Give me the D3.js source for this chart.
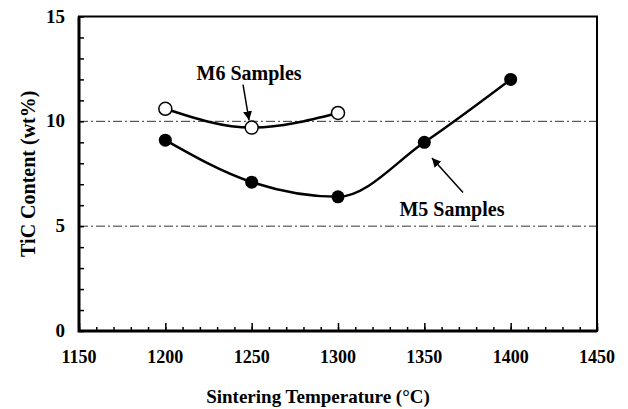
<!DOCTYPE html>
<html>
<head>
<meta charset="utf-8">
<script src="https://cdn.jsdelivr.net/npm/d3@7"></script>
<style>
  body { margin: 0; background: #fff; }
  text { font-family: "Liberation Serif", "Times New Roman", serif; font-weight: bold; fill: #000; }
</style>
</head>
<body>
<script>
const temps = [1200, 1250, 1300, 1350, 1400];
const m5 = [9.1, 7.1, 6.4, 9.0, 12.0];
const m6 = [10.6, 9.7, 10.4];
const xTicks = [1150, 1200, 1250, 1300, 1350, 1400, 1450];
const yTicks = [0, 5, 10, 15];
const gridValues = [5, 10];

const width = 628;
const height = 409;
const plot = { left: 79, right: 597, top: 16.5, bottom: 331 };

const x = d3.scaleLinear()
  .domain([1150, 1450])
  .range([plot.left, plot.right]);

const y = d3.scaleLinear()
  .domain([0, 15])
  .range([plot.bottom, plot.top]);

const svg = d3.select('body').append('svg')
  .attr('width', width)
  .attr('height', height);

// dash-dot reference lines
svg.selectAll('line.grid')
  .data(gridValues)
  .enter().append('line')
  .attr('class', 'grid')
  .attr('x1', plot.left)
  .attr('x2', plot.right)
  .attr('y1', d => y(d))
  .attr('y2', d => y(d))
  .attr('stroke', '#333')
  .attr('stroke-width', 1)
  .attr('stroke-dasharray', '9,3,2,3');

// minor / major ticks, pointing inward
svg.append('g')
  .attr('transform', `translate(0, ${plot.bottom})`)
  .call(d3.axisBottom(x).ticks(30).tickSize(-4).tickFormat(''))
  .call(g => g.select('.domain').remove())
  .call(g => g.selectAll('line').attr('stroke-width', 1.5));

svg.append('g')
  .attr('transform', `translate(0, ${plot.bottom})`)
  .call(d3.axisBottom(x).tickValues(xTicks).tickSize(-8).tickFormat(''))
  .call(g => g.select('.domain').remove())
  .call(g => g.selectAll('line').attr('stroke-width', 1.5));

svg.append('g')
  .attr('transform', `translate(${plot.left}, 0)`)
  .call(d3.axisLeft(y).ticks(15).tickSize(-5).tickFormat(''))
  .call(g => g.select('.domain').remove())
  .call(g => g.selectAll('line').attr('stroke-width', 1.5));

// frame
svg.append('rect')
  .attr('x', plot.left)
  .attr('y', plot.top)
  .attr('width', plot.right - plot.left)
  .attr('height', plot.bottom - plot.top)
  .attr('fill', 'none')
  .attr('stroke', '#000')
  .attr('stroke-width', 2);

svg.append('path')
  .attr('d', `M${plot.left},${plot.top}V${plot.bottom}H${plot.right}`)
  .attr('fill', 'none')
  .attr('stroke', '#000')
  .attr('stroke-width', 3);

// tick labels
svg.selectAll('text.xlab')
  .data(xTicks)
  .enter().append('text')
  .attr('class', 'xlab')
  .attr('x', d => x(d))
  .attr('y', 363)
  .attr('text-anchor', 'middle')
  .style('font-size', '18px')
  .text(d => d);

svg.selectAll('text.ylab')
  .data(yTicks)
  .enter().append('text')
  .attr('class', 'ylab')
  .attr('x', 65)
  .attr('y', d => y(d) + 6)
  .attr('text-anchor', 'end')
  .style('font-size', '19px')
  .text(d => d);

svg.append('text')
  .attr('x', 318)
  .attr('y', 403)
  .attr('text-anchor', 'middle')
  .style('font-size', '19px')
  .text('Sintering Temperature (°C)');

svg.append('text')
  .attr('transform', `translate(35, ${(plot.top + plot.bottom) / 2}) rotate(-90)`)
  .attr('text-anchor', 'middle')
  .style('font-size', '20px')
  .text('TiC Content (wt%)');

// curves
const line = d3.line()
  .x((d, i) => x(temps[i]))
  .y(d => y(d))
  .curve(d3.curveMonotoneX);

svg.append('path')
  .datum(m5)
  .attr('d', line)
  .attr('fill', 'none')
  .attr('stroke', '#000')
  .attr('stroke-width', 2.5);

svg.append('path')
  .datum(m6)
  .attr('d', line)
  .attr('fill', 'none')
  .attr('stroke', '#000')
  .attr('stroke-width', 2.5);

svg.selectAll('circle.m5')
  .data(m5)
  .enter().append('circle')
  .attr('class', 'm5')
  .attr('cx', (d, i) => x(temps[i]))
  .attr('cy', d => y(d))
  .attr('r', 6.5)
  .attr('fill', '#000');

svg.selectAll('circle.m6')
  .data(m6)
  .enter().append('circle')
  .attr('class', 'm6')
  .attr('cx', (d, i) => x(temps[i]))
  .attr('cy', d => y(d))
  .attr('r', 6.5)
  .attr('fill', '#fff')
  .attr('stroke', '#000')
  .attr('stroke-width', 1.5);

// annotations
svg.append('defs').append('marker')
  .attr('id', 'head')
  .attr('viewBox', '0 0 10 10')
  .attr('refX', 10)
  .attr('refY', 5)
  .attr('markerWidth', 9)
  .attr('markerHeight', 9)
  .attr('markerUnits', 'userSpaceOnUse')
  .attr('orient', 'auto')
  .append('path')
  .attr('d', 'M0,0L10,5L0,10z')
  .attr('fill', '#000');

const notes = [
  { label: 'M6 Samples', tx: 1248.5, ty: 11.97, x1: 1245, y1: 11.75, x2: 1248.5, y2: 10.05 },
  { label: 'M5 Samples', tx: 1366, ty: 5.48, x1: 1372.4, y1: 6.6, x2: 1354.4, y2: 8.25 },
];

notes.forEach((n) => {
  svg.append('text')
    .attr('x', x(n.tx))
    .attr('y', y(n.ty))
    .attr('text-anchor', 'middle')
    .style('font-size', '20px')
    .text(n.label);

  svg.append('line')
    .attr('x1', x(n.x1))
    .attr('y1', y(n.y1))
    .attr('x2', x(n.x2))
    .attr('y2', y(n.y2))
    .attr('stroke', '#000')
    .attr('stroke-width', 1.5)
    .attr('marker-end', 'url(#head)');
});
</script>
</body>
</html>
